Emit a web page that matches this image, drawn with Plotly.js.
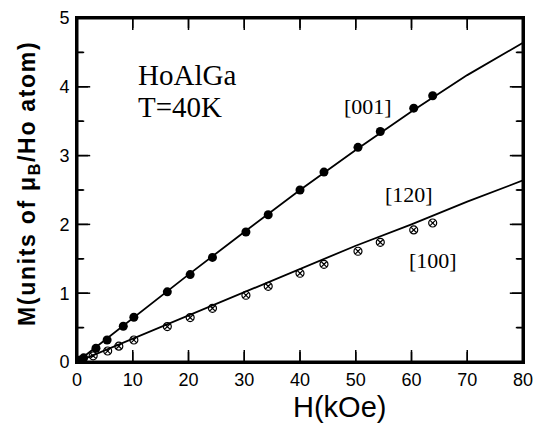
<!DOCTYPE html>
<html>
<head>
<meta charset="utf-8">
<script src="https://cdn.plot.ly/plotly-3.0.1.min.js"></script>
<style>html,body{margin:0;padding:0;background:#fff;}#chart{width:534px;height:425px;}</style>
</head>
<body>
<div id="chart"></div>
<script>
// [001] measured points (filled circles)
const h001 = [0.6, 1.2, 3.4, 5.4, 8.3, 10.2, 16.2, 20.3, 24.3, 30.3, 34.3, 40.0, 44.3, 50.4, 54.4, 60.4, 63.8];
const m001 = [0.03, 0.06, 0.2, 0.32, 0.52, 0.65, 1.02, 1.27, 1.52, 1.89, 2.14, 2.5, 2.76, 3.12, 3.35, 3.69, 3.87];
// [100] measured points (crossed circles)
const h100 = [1.0, 2.9, 5.5, 7.5, 10.2, 16.2, 20.3, 24.3, 30.3, 34.3, 40.0, 44.3, 50.4, 54.4, 60.4, 63.8];
const m100 = [0.015, 0.09, 0.16, 0.23, 0.32, 0.515, 0.645, 0.78, 0.97, 1.1, 1.29, 1.42, 1.61, 1.74, 1.92, 2.02];
// calculated curves
const hCalc = [0, 10, 20, 30, 40, 50, 60, 70, 80];
const mCalc001 = [0, 0.64, 1.27, 1.89, 2.5, 3.08, 3.64, 4.17, 4.64];
const mCalc120 = [0, 0.34, 0.68, 1.02, 1.36, 1.69, 2.0, 2.33, 2.64];
// axes
const xRange = [0, 80];
const yRange = [0, 5];
const xTicks = [0, 10, 20, 30, 40, 50, 60, 70, 80];
const yTicks = [0, 1, 2, 3, 4, 5];
const yMinorTicks = [0.5, 1.5, 2.5, 3.5, 4.5];

const W = 534, H = 425, M = {l: 77, r: 11, t: 18, b: 63};
const plotW = W - M.l - M.r, plotH = H - M.t - M.b;
const xTickLen = 10 / plotH * (yRange[1] - yRange[0]);
const yTickLen = 11 / plotW * (xRange[1] - xRange[0]);
const yMinorLen = 6 / plotW * (xRange[1] - xRange[0]);

// inside tick marks on all four sides, from the tick arrays
const tx = [], ty = [];
xTicks.forEach(v => {
  tx.push(v, v, null, v, v, null);
  ty.push(yRange[0], yRange[0] + xTickLen, null, yRange[1], yRange[1] - xTickLen, null);
});
yTicks.forEach(v => {
  tx.push(xRange[0], xRange[0] + yTickLen, null, xRange[1], xRange[1] - yTickLen, null);
  ty.push(v, v, null, v, v, null);
});
yMinorTicks.forEach(v => {
  tx.push(xRange[0], xRange[0] + yMinorLen, null, xRange[1], xRange[1] - yMinorLen, null);
  ty.push(v, v, null, v, v, null);
});
// tick marks as line markers too
const mxX = [], mxY = [];
xTicks.forEach(v => { mxX.push(v, v); mxY.push(yRange[0] + xTickLen / 2, yRange[1] - xTickLen / 2); });
const myX = [], myY = [];
yTicks.forEach(v => { myX.push(xRange[0] + yTickLen / 2, xRange[1] - yTickLen / 2); myY.push(v, v); });
const mmX = [], mmY = [];
yMinorTicks.forEach(v => { mmX.push(xRange[0] + yMinorLen / 2, xRange[1] - yMinorLen / 2); mmY.push(v, v); });

const traces = [
  {x: hCalc, y: mCalc001, mode: 'lines', line: {color: '#000', width: 1.8}, hoverinfo: 'skip'},
  {x: hCalc, y: mCalc120, mode: 'lines', line: {color: '#000', width: 1.8}, hoverinfo: 'skip'},
  {x: h001, y: m001, mode: 'markers', marker: {symbol: 'circle', size: 9, color: '#000'}},
  {x: h100, y: m100, mode: 'markers', marker: {symbol: 'circle-x-open', size: 8, color: '#000', line: {width: 1.2, color: '#000'}}},
  {x: tx, y: ty, mode: 'lines', line: {color: '#000', width: 1.5}, connectgaps: false, hoverinfo: 'skip'},
  {x: mxX, y: mxY, mode: 'markers', marker: {symbol: 'line-ns', size: 10, line: {color: '#000', width: 1.5}}, hoverinfo: 'skip'},
  {x: myX, y: myY, mode: 'markers', marker: {symbol: 'line-ew', size: 11, line: {color: '#000', width: 1.5}}, hoverinfo: 'skip'},
  {x: mmX, y: mmY, mode: 'markers', marker: {symbol: 'line-ew', size: 6, line: {color: '#000', width: 1.5}}, hoverinfo: 'skip'},
  {x: [xRange[0], xRange[1], xRange[1], xRange[0], xRange[0]], y: [yRange[0], yRange[0], yRange[1], yRange[1], yRange[0]],
   mode: 'lines', line: {color: '#000', width: 3}, hoverinfo: 'skip'}
];

const serif = 'Liberation Serif, Times New Roman, serif';
const sans = 'Liberation Sans, Arial, Helvetica, sans-serif';

const layout = {
  width: W, height: H,
  margin: M,
  paper_bgcolor: '#fff', plot_bgcolor: '#fff',
  showlegend: false,
  font: {family: sans, color: '#000', size: 16},
  xaxis: {
    range: xRange, tickmode: 'array', tickvals: xTicks, ticktext: xTicks.map(String),
    ticks: '', showline: true, linecolor: '#000', linewidth: 2, mirror: true,
    showgrid: false, zeroline: false,
    tickfont: {family: sans, size: 18, color: '#000'}
  },
  yaxis: {
    range: yRange, tickmode: 'array', tickvals: yTicks, ticktext: yTicks.map(String),
    ticks: '', showline: true, linecolor: '#000', linewidth: 2, mirror: true,
    showgrid: false, zeroline: false,
    ticklabelstandoff: 2,
    tickfont: {family: sans, size: 18, color: '#000'}
  },
  xaxis2: {overlaying: 'x', side: 'top', range: xRange, showline: true, linecolor: '#000', linewidth: 2,
    showticklabels: false, ticks: '', showgrid: false, zeroline: false},
  yaxis2: {overlaying: 'y', side: 'right', range: yRange, showline: true, linecolor: '#000', linewidth: 2,
    showticklabels: false, ticks: '', showgrid: false, zeroline: false},
  annotations: [
    {xref: 'paper', yref: 'paper', x: -0.11, y: 0.52,
     text: '<span style="letter-spacing:1.7px"><b>M(units of μ<sub>B</sub>/Ho atom)</b></span>', textangle: -90,
     showarrow: false, font: {family: sans, size: 23, color: '#000'}, xanchor: 'center', yanchor: 'middle'},
    {xref: 'x', yref: 'paper', x: 47, y: -0.13, text: 'H(kOe)', showarrow: false,
     font: {family: sans, size: 29, color: '#000'}, xanchor: 'center', yanchor: 'middle'},
    {xref: 'x', yref: 'y', x: 10.6, y: 4.17, text: 'HoAlGa', showarrow: false, xanchor: 'left', yanchor: 'middle',
     font: {family: serif, size: 29, color: '#000'}},
    {xref: 'x', yref: 'y', x: 10.6, y: 3.70, text: 'T=40K', showarrow: false, xanchor: 'left', yanchor: 'middle',
     font: {family: serif, size: 29, color: '#000'}},
    {xref: 'x', yref: 'y', x: 52.2, y: 3.72, text: '[001]', showarrow: false, xanchor: 'center', yanchor: 'middle',
     font: {family: serif, size: 22, color: '#000'}},
    {xref: 'x', yref: 'y', x: 59.6, y: 2.44, text: '[120]', showarrow: false, xanchor: 'center', yanchor: 'middle',
     font: {family: serif, size: 22, color: '#000'}},
    {xref: 'x', yref: 'y', x: 63.9, y: 1.47, text: '[100]', showarrow: false, xanchor: 'center', yanchor: 'middle',
     font: {family: serif, size: 22, color: '#000'}}
  ]
};

// a dummy trace so the overlaying top/right axes are drawn
traces.push({x: [xRange[0]], y: [yRange[0]], xaxis: 'x2', yaxis: 'y2', mode: 'markers', marker: {size: 0.1, color: 'rgba(0,0,0,0)'}, hoverinfo: 'skip'});

Plotly.newPlot('chart', traces, layout, {staticPlot: true, displayModeBar: false});
</script>
</body>
</html>
